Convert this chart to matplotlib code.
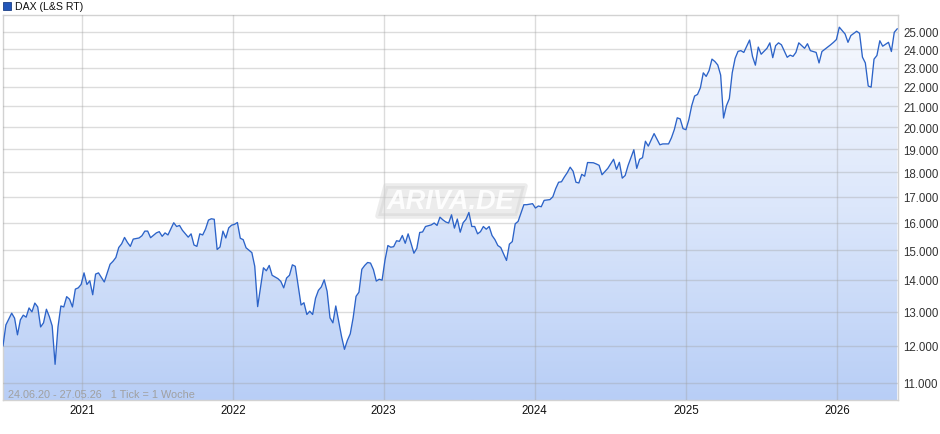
import numpy as np
import matplotlib
matplotlib.use("Agg")
import matplotlib.pyplot as plt
import matplotlib.dates as mdates
from matplotlib.colors import LinearSegmentedColormap
from matplotlib.patches import Polygon, Rectangle
from matplotlib.ticker import FixedLocator, FuncFormatter, NullLocator

plt.rcParams["font.family"] = ["Liberation Sans", "DejaVu Sans"]

# weekly closes, (weeks since 24.06.2020, DAX points)
START = np.datetime64("2020-06-24")
END = np.datetime64("2026-05-29")

dax_2020 = [
    (0, 12000), (1, 12600), (3, 12950), (4, 12800), (5, 12310), (6, 12750),
    (7, 12890), (8, 12830), (9, 13110), (10, 12990), (11, 13260), (12, 13140),
    (13, 12540), (14, 12660), (15, 13070), (16, 12850), (17, 12570), (18, 11490),
    (19, 12540), (20, 13170), (21, 13140), (22, 13460), (23, 13380), (24, 13140),
    (25, 13700), (26, 13740), (27, 13850),
]
dax_2021 = [
    (28, 14230), (29, 13850), (30, 13970), (31, 13520), (32, 14190), (33, 14230),
    (35, 13930), (37, 14520), (38, 14620), (39, 14750), (40, 15100), (41, 15230),
    (42, 15460), (43, 15280), (44, 15140), (45, 15400), (46, 15420), (47, 15440),
    (48, 15520), (49, 15690), (50, 15690), (51, 15450), (53, 15625), (54, 15670),
    (55, 15500), (56, 15625), (57, 15550), (59, 16000), (60, 15860), (61, 15900),
    (62, 15720), (64, 15470), (65, 15590), (66, 15190), (67, 15140), (68, 15590),
    (69, 15550), (70, 15770), (71, 16100), (72, 16150), (73, 16130), (74, 15030),
    (75, 15120), (76, 15690), (77, 15440), (78, 15810),
]
dax_2022 = [
    (79, 15910), (80, 15940), (81, 16010), (82, 15430), (83, 15380), (84, 15090),
    (86, 14920), (87, 14450), (88, 13150), (90, 14400), (91, 14300), (92, 14480),
    (93, 14150), (95, 14040), (96, 13950), (97, 13740), (98, 14060), (99, 14150),
    (100, 14500), (101, 14450), (102, 13800), (103, 13200), (104, 13270), (105, 12910),
    (106, 13010), (107, 12910), (108, 13410), (109, 13660), (110, 13770), (111, 14000),
    (112, 13630), (113, 12810), (114, 12660), (115, 13170), (116, 12710), (117, 12260),
    (118, 11900), (119, 12150), (120, 12340), (121, 12810), (122, 13470), (123, 13600),
    (124, 14350), (125, 14480), (126, 14580), (127, 14560), (128, 14340), (129, 13960),
    (130, 14020),
]
dax_2023 = [
    (131, 13990), (132, 14660), (133, 15170), (134, 15110), (135, 15130), (136, 15340),
    (137, 15320), (138, 15530), (139, 15250), (140, 15590), (141, 15250), (142, 14900),
    (143, 15070), (144, 15640), (145, 15660), (146, 15860), (148, 15920), (149, 15990),
    (150, 15900), (151, 16210), (152, 16110), (153, 16030), (154, 15990), (155, 16300),
    (156, 15800), (157, 16140), (158, 15650), (159, 16000), (160, 16130), (161, 16390),
    (162, 15860), (163, 15860), (164, 15590), (165, 15670), (166, 15860), (167, 15760),
    (168, 15860), (169, 15530), (170, 15380), (171, 15170), (172, 15100), (173, 14870),
    (174, 14650), (175, 15220), (176, 15310), (177, 15960), (178, 16050), (180, 16690),
    (181, 16690), (183, 16730),
]
dax_2024 = [
    (184, 16560), (185, 16640), (186, 16610), (187, 16860), (189, 16890), (190, 17000),
    (191, 17330), (192, 17590), (193, 17610), (194, 17810), (195, 17990), (196, 18220),
    (197, 18050), (198, 17590), (199, 17560), (200, 17920), (201, 17840), (202, 18420),
    (204, 18410), (205, 18360), (206, 18300), (207, 17900), (209, 18170), (211, 18560),
    (212, 18130), (213, 18430), (214, 17760), (215, 17870), (216, 18290), (218, 18980),
    (219, 18170), (220, 18560), (221, 18630), (222, 19360), (223, 19140), (225, 19710),
    (227, 19200), (228, 19240), (230, 19240), (231, 19520), (232, 19900), (233, 20450),
    (234, 20400), (235, 19940),
]
dax_2025 = [
    (236, 19890), (237, 20360), (238, 21040), (239, 21520), (240, 21600), (241, 21940),
    (242, 22720), (243, 22530), (244, 22840), (245, 23460), (246, 23330), (247, 23140),
    (248, 22600), (249, 20440), (250, 21040), (251, 21390), (252, 22720), (253, 23500),
    (254, 23890), (255, 23930), (256, 23830), (258, 24530), (259, 23610), (260, 23130),
    (261, 24130), (262, 23730), (264, 24060), (265, 24370), (266, 23540), (267, 24210),
    (268, 24370), (269, 24260), (271, 23560), (272, 23680), (273, 23610), (274, 23830),
    (275, 24370), (277, 24060), (278, 24320), (279, 23930), (281, 23830), (282, 23250),
    (283, 23880), (285, 24130), (286, 24260), (287, 24400),
]
dax_2026 = [
    (288, 24560), (289, 25280), (291, 24880), (292, 24400), (293, 24790), (295, 25040),
    (296, 24920), (297, 23570), (298, 23250), (299, 22030), (300, 21970), (301, 23460),
    (302, 23660), (303, 24490), (304, 24180), (306, 24400), (307, 23880), (308, 24980),
    (309, 25180),
]

y_ticks = list(range(11000, 26000, 1000))
Y_MIN, Y_MAX = 10570, 26010

series = np.array(dax_2020 + dax_2021 + dax_2022 + dax_2023 + dax_2024 + dax_2025 + dax_2026)
dates = START + series[:, 0].astype(int) * np.timedelta64(7, "D")
values = series[:, 1].astype(float)

W, H = 940, 435
L, R, T, B = 3, 898, 16, 401  # plot box in pixels

fig = plt.figure(figsize=(W / 100, H / 100), dpi=100)
ax = fig.add_axes([L / W, 1 - B / H, (R - L) / W, (B - T) / H])

ax.set_yscale("log")
ax.set_xlim(START, END)
ax.set_ylim(Y_MIN, Y_MAX)
ax.set_autoscale_on(False)

# grid
for v in y_ticks:
    ax.axhline(v, color="#a0a0a0", alpha=0.36, lw=1, zorder=3)
for yr in range(2021, 2027):
    ax.axvline(np.datetime64(f"{yr}-01-01"), color="#a0a0a0", alpha=0.36, lw=1, zorder=3)

# gradient fill under the line
grad = np.linspace(0, 1, 256).reshape(-1, 1)
cmap = LinearSegmentedColormap.from_list("fill", ["#b8cef6", "#dce7fb", "#f7f9fe"])
im = ax.imshow(grad, cmap=cmap, aspect="auto", origin="lower", extent=[0, 1, 0, 1],
               transform=ax.transAxes, zorder=1, interpolation="bilinear")
area = ax.fill_between(dates, values, 9000, facecolor="none", edgecolor="none")
im.set_clip_path(area.get_paths()[0], transform=ax.transData)
ax.set_xlim(START, END)
ax.set_ylim(Y_MIN, Y_MAX)


def px(x, y):
    return ((x - L) / (R - L), (B - y) / (B - T))


# watermark
wm = Polygon([px(386, 187), px(525, 187), px(517, 217), px(378, 217)], closed=True,
             transform=ax.transAxes, facecolor="#cfcfcf", edgecolor="#cfcfcf",
             lw=4, joinstyle="round", alpha=0.38, zorder=4)
ax.add_patch(wm)
ax.text(*px(450, 202), "ARIVA.DE", transform=ax.transAxes, ha="center", va="center",
        fontsize=19.5, fontstyle="italic", fontweight="bold", color="white", alpha=0.9,
        zorder=4)

ax.plot(dates, values, color="#2c63c8", lw=0.95, zorder=5)

ax.text(*px(8, 395), "24.06.20 - 27.05.26   1 Tick = 1 Woche", transform=ax.transAxes,
        ha="left", va="center", fontsize=7.8, color="#a0a0a0", zorder=6)

# axes styling
for side in ["left", "right", "top", "bottom"]:
    ax.spines[side].set_color("#d2d2d2")
    ax.spines[side].set_linewidth(1)

ax.yaxis.set_major_locator(FixedLocator(y_ticks))
ax.yaxis.set_minor_locator(NullLocator())
ax.yaxis.set_major_formatter(FuncFormatter(lambda v, _: f"{v:,.0f}".replace(",", ".")))
ax.yaxis.tick_right()
ax.tick_params(axis="y", length=0, pad=4, labelsize=8.3, labelcolor="#333333")

ax.xaxis.set_major_locator(mdates.YearLocator())
ax.xaxis.set_major_formatter(mdates.DateFormatter("%Y"))
ax.xaxis.set_minor_locator(NullLocator())
ax.tick_params(axis="x", length=0, pad=3, labelsize=8.3, labelcolor="#111111")

# legend
fig.add_artist(Rectangle((3 / W, 1 - 11 / H), 8 / W, 8 / H, transform=fig.transFigure,
                         facecolor="#2256b9", edgecolor="#1b3f86", lw=0.6))
fig.text(15 / W, 1 - 7 / H, "DAX (L&S RT)", ha="left", va="center", fontsize=7.6,
         color="#111111")

fig.savefig("out.png", dpi=100)
